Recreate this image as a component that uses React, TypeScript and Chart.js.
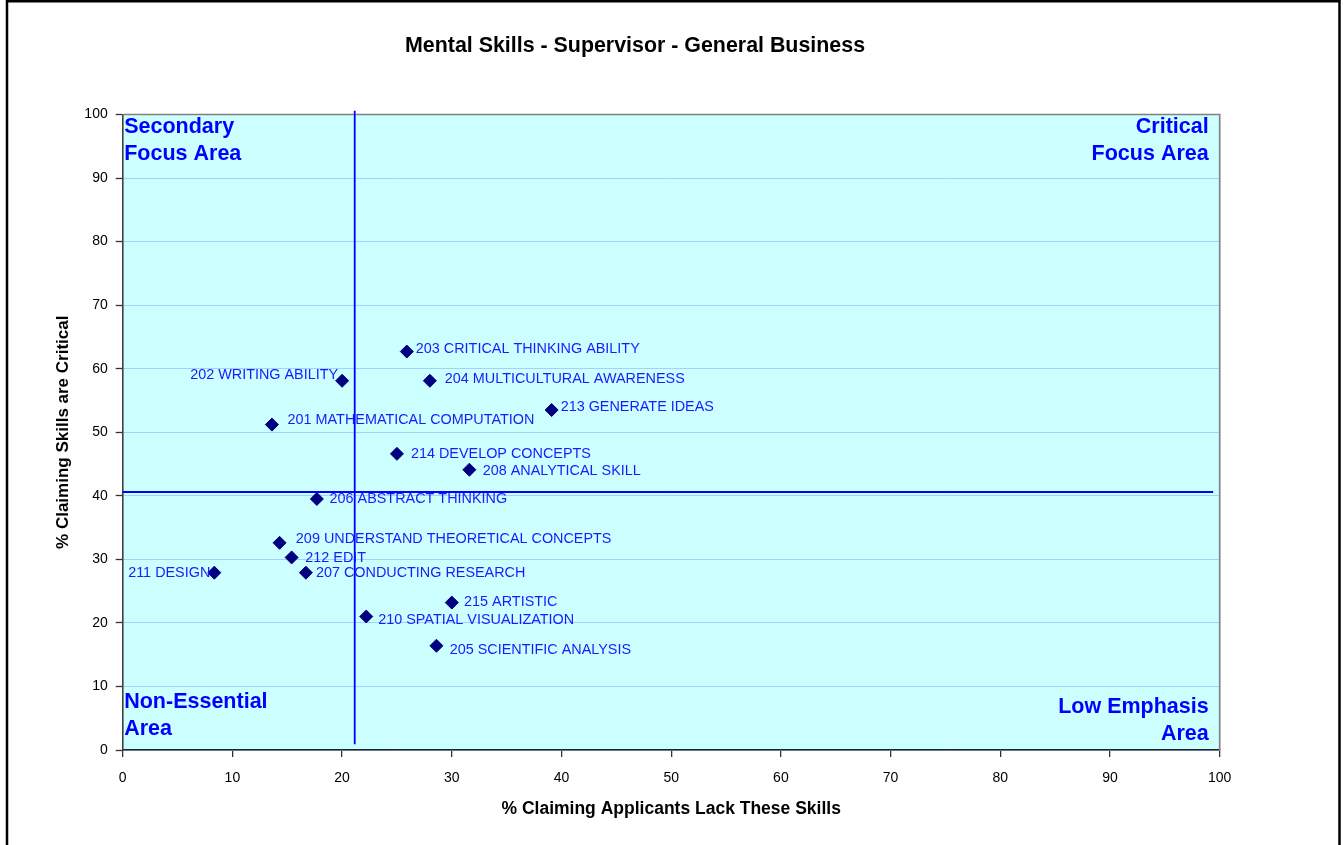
import { useEffect, useRef } from "react";
import { Chart, registerables } from "chart.js";

Chart.register(...registerables);

const FONT = 'Arial, "Liberation Sans", sans-serif';

const chartTitle = "Mental Skills - Supervisor - General Business";
const xAxisTitle = "% Claiming Applicants Lack These Skills";
const yAxisTitle = "% Claiming Skills are Critical";

// Data
const skillNames = [
  "201 MATHEMATICAL COMPUTATION",
  "202 WRITING ABILITY",
  "203 CRITICAL THINKING ABILITY",
  "204 MULTICULTURAL AWARENESS",
  "205 SCIENTIFIC ANALYSIS",
  "206 ABSTRACT THINKING",
  "207 CONDUCTING RESEARCH",
  "208 ANALYTICAL SKILL",
  "209 UNDERSTAND THEORETICAL CONCEPTS",
  "210 SPATIAL VISUALIZATION",
  "211 DESIGN",
  "212 EDIT",
  "213 GENERATE IDEAS",
  "214 DEVELOP CONCEPTS",
  "215 ARTISTIC",
];
const lackPct = [13.6, 20.0, 25.9, 28.0, 28.6, 17.7, 16.7, 31.6, 14.3, 22.2, 8.35, 15.4, 39.1, 25.0, 30.0];
const criticalPct = [51.2, 58.1, 62.7, 58.1, 16.4, 39.5, 27.9, 44.1, 32.6, 21.0, 27.9, 30.3, 53.5, 46.6, 23.2];

// Quadrant divider lines (data coordinates)
const dividerX = 21.15;
const dividerXSpan = [100.6, 0.9];
const dividerY = 40.6;
const dividerYSpan = [0, 99.4];

const axisMin = 0;
const axisMax = 100;
const axisStep = 10;

// Label placement (pixels relative to marker)
const labelSide = ["r", "l", "r", "r", "r", "r", "r", "r", "r", "r", "l", "r", "r", "r", "r"];
const labelDx = [15.7, 4, 9, 15, 13.3, 12.7, 10, 13.3, 16.3, 12, 4, 13.7, 9, 14, 12.3];
const labelDy = [-4.5, -6.2, -2.5, -1.5, 4.2, 0.5, 0.5, 1.5, -3.5, 3.5, 0.5, 0.5, -3, 0.5, -0.2];

// Quadrant captions
const quadrantCaptions = [
  { lines: ["Secondary", "Focus Area"], align: "left", baselines: [133, 160] },
  { lines: ["Critical", "Focus Area"], align: "right", baselines: [133, 160] },
  { lines: ["Non-Essential", "Area"], align: "left", baselines: [708, 735] },
  { lines: ["Low Emphasis", "Area"], align: "right", baselines: [713, 740] },
];

const decorPlugin = {
  id: "decor",
  beforeDraw(chart: any) {
    const { ctx, chartArea: a } = chart;
    ctx.save();
    ctx.fillStyle = "#CCFFFF";
    ctx.fillRect(a.left, a.top, a.right - a.left, a.bottom - a.top);
    ctx.restore();
  },
  beforeDatasetsDraw(chart: any) {
    const { ctx, chartArea: a } = chart;
    ctx.save();
    ctx.strokeStyle = "#808080";
    ctx.lineWidth = 1.7;
    ctx.beginPath();
    ctx.moveTo(a.left, a.top);
    ctx.lineTo(a.right, a.top);
    ctx.lineTo(a.right, a.bottom);
    ctx.stroke();
    ctx.restore();
  },
  afterDatasetsDraw(chart: any) {
    const { ctx } = chart;
    const meta = chart.getDatasetMeta(0);
    ctx.save();
    ctx.font = `14.4px ${FONT}`;
    ctx.fillStyle = "#1A1AFF";
    ctx.textBaseline = "middle";
    meta.data.forEach((pt: any, i: number) => {
      const side = labelSide[i];
      if (side === "l") {
        ctx.textAlign = "right";
        ctx.fillText(skillNames[i], pt.x - labelDx[i], pt.y + labelDy[i]);
      } else {
        ctx.textAlign = "left";
        ctx.fillText(skillNames[i], pt.x + labelDx[i], pt.y + labelDy[i]);
      }
    });
    ctx.restore();
  },
  afterDraw(chart: any) {
    const { ctx, chartArea: a } = chart;
    ctx.save();
    // quadrant captions
    ctx.font = `bold 21.5px ${FONT}`;
    ctx.fillStyle = "#0000FF";
    ctx.textBaseline = "alphabetic";
    quadrantCaptions.forEach((q) => {
      ctx.textAlign = q.align as CanvasTextAlign;
      const x = q.align === "left" ? a.left + 1.5 : a.right - 11;
      q.lines.forEach((ln, k) => ctx.fillText(ln, x, q.baselines[k]));
    });
    // title
    ctx.font = `bold 21.4px ${FONT}`;
    ctx.fillStyle = "#000000";
    ctx.textAlign = "center";
    ctx.fillText(chartTitle, 635, 52);
    // outer border
    ctx.strokeStyle = "#000000";
    ctx.lineWidth = 2.5;
    ctx.strokeRect(7, 1.25, 1332.5, 900);
    ctx.restore();
  },
};

export default function App() {
  const ref = useRef<HTMLCanvasElement | null>(null);

  useEffect(() => {
    if (!ref.current) return;
    const points = lackPct.map((x, i) => ({ x, y: criticalPct[i] }));
    const vLine = dividerXSpan.map((y) => ({ x: dividerX, y }));
    const hLine = dividerYSpan.map((x) => ({ x, y: dividerY }));

    const chart = new Chart(ref.current, {
      type: "scatter",
      data: {
        datasets: [
          {
            label: "Skills",
            data: points,
            pointStyle: "rectRot",
            pointRadius: 6.5,
            pointBackgroundColor: "#000080",
            pointBorderColor: "#000080",
            pointBorderWidth: 1,
            showLine: false,
            order: 0,
          },
          {
            label: "vdiv",
            data: vLine,
            showLine: true,
            borderColor: "#0000FF",
            borderWidth: 1.8,
            pointRadius: 0,
            clip: false,
            order: 1,
          } as any,
          {
            label: "hdiv",
            data: hLine,
            showLine: true,
            borderColor: "#0000FF",
            borderWidth: 1.8,
            pointRadius: 0,
            clip: false,
            order: 1,
          } as any,
        ],
      },
      options: {
        animation: false,
        responsive: false,
        maintainAspectRatio: false,
        layout: { padding: { top: 114.5, right: 123.3, bottom: 0, left: 0 } },
        plugins: {
          legend: { display: false },
          tooltip: { enabled: false },
          title: { display: false },
        },
        scales: {
          x: {
            type: "linear",
            min: axisMin,
            max: axisMax,
            ticks: {
              stepSize: axisStep,
              color: "#000000",
              font: { family: FONT, size: 14 },
              padding: 13,
            },
            grid: {
              drawOnChartArea: false,
              tickLength: 7,
              tickColor: "#333333",
              lineWidth: 1.3,
            },
            border: { color: "#222222", width: 1.5 },
            title: {
              display: true,
              text: xAxisTitle,
              color: "#000000",
              font: { family: FONT, size: 17.5, weight: "bold" },
              padding: { top: 0, bottom: 25 },
            },
            afterFit: (s: any) => {
              s.height = 95;
            },
          },
          y: {
            type: "linear",
            min: axisMin,
            max: axisMax,
            ticks: {
              stepSize: axisStep,
              color: "#000000",
              font: { family: FONT, size: 14 },
              padding: 8,
            },
            grid: {
              color: "#A3D1FF",
              lineWidth: 1,
              tickLength: 7,
              tickColor: "#333333",
              tickWidth: 1.3,
            },
            border: { color: "#404040", width: 1.6 },
            title: {
              display: true,
              text: yAxisTitle,
              color: "#000000",
              font: { family: FONT, size: 17, weight: "bold" },
              padding: { top: 53.5, bottom: 0 },
            },
            afterFit: (s: any) => {
              s.width = 122.7;
            },
          },
        },
      } as any,
      plugins: [decorPlugin],
    });
    return () => chart.destroy();
  }, []);

  return (
    <div style={{ position: "absolute", left: 0, top: 0, width: 1343, height: 845, background: "#FFFFFF" }}>
      <canvas ref={ref} width={1343} height={845} style={{ display: "block" }} />
    </div>
  );
}
